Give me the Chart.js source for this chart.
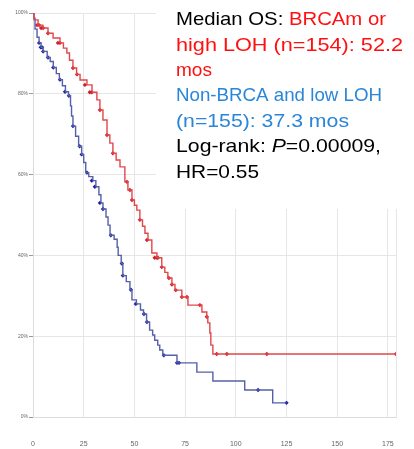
<!DOCTYPE html>
<html>
<head>
<meta charset="utf-8">
<script src="https://cdn.jsdelivr.net/npm/chart.js@4.4.1/dist/chart.umd.min.js"></script>
<style>
  html, body { margin: 0; padding: 0; background: #fff; }
  #wrap { width: 414px; height: 449px; }
</style>
</head>
<body>
<div id="wrap"><canvas id="km"></canvas></div>
<script>
// months / survival (%)
const RED_T = [0, 0.5, 2.5, 4.9, 7.4, 9.9, 13.3, 15, 16.7, 18, 19.7, 21.5, 23.2, 26.6, 29.1, 31.5, 33, 34.5, 36.5, 37.9,
    39.4, 41, 42.9, 45.3, 46.8, 48.8, 50, 51.2, 52.7, 54, 55.2, 56.7, 58.6, 61.1, 63.5, 65, 66.5, 68.5, 70, 73.4,
    76.4, 83.3, 85.7, 86.2, 87.2, 87.7, 88.7, 179];
const RED_S = [100, 98.3, 97, 96.3, 95, 93.8, 92.6, 91.3, 90.1, 88.3, 86.4, 84.8, 83.4, 82.2, 80.4, 78.5, 76, 73.5, 69.8, 67.8,
    65.3, 63.6, 61.9, 58.2, 56.2, 53.7, 52.4, 51.2, 48.8, 47.2, 45.5, 43.8, 40.6, 39.4, 37.1, 35.8, 34.4, 32.8, 31.4, 29.7,
    27.7, 26, 24.8, 23.3, 20.8, 17.8, 15.6, 15.6];
const RED_CENS_T = [2, 3, 4, 5, 7.4, 12.3, 13.3, 19.7, 21.7, 25.6, 28, 29, 33, 36.5, 39.4, 46.3, 47.8, 48.8, 52.7, 56.2,
    60, 61.1, 61.6, 63.5, 67, 68.5, 70.4, 73.4, 75.9, 82.3, 85.7, 90.6, 95.6, 115.3, 179];
const RED_CENS_S = [97, 97, 96.3, 96.3, 95, 92.6, 92.6, 86.4, 84.8, 82.2, 80.4, 80.4, 76, 69.8, 65.3, 58.2, 56.2, 53.7, 48.8, 43.8,
    39.4, 39.4, 39.4, 37.1, 34.4, 32.8, 31.4, 29.7, 29.7, 27.7, 24.8, 15.6, 15.6, 15.6, 15.6];

const BLUE_T = [0, 0.5, 1, 2, 3, 4, 5, 7, 8.5, 10, 11.5, 13, 14.5, 16, 17.5, 18.5, 19, 19.7, 21, 22.5,
    24, 25, 26, 27.5, 29.5, 31, 32.5, 33.5, 34.5, 36, 37, 38, 40, 41.5, 42, 43.5, 44.3, 46, 47.8, 48.8,
    51, 53, 54.5, 56, 57.5, 59, 60, 61.5, 62.5, 64, 71, 80.8, 88.7, 104.4, 118.2, 125];
const BLUE_S = [100, 98.7, 96, 94, 92.6, 91.5, 90.5, 89, 88, 86.5, 85, 83.5, 82, 80.5, 79.5, 77, 74.5, 72, 69.5, 67,
    65, 63, 60.5, 59.5, 58.5, 57, 55, 53, 51.5, 49.5, 47.5, 45, 44, 42, 40, 38, 35, 33.5, 31.5, 29,
    28, 26.5, 25.5, 23.5, 21.5, 20.3, 19, 17.8, 16.6, 15.3, 13.4, 11.1, 8.9, 6.7, 3.5, 3.5];
const BLUE_CENS_T = [3, 3.8, 4.5, 5, 7.4, 10, 13.3, 15.8, 17.7, 19.7, 23, 24, 26.6, 29, 30.5, 33, 34.5, 38.4, 43.8,
    44.3, 48.3, 50.7, 54.7, 56.2, 64.5, 71, 72, 111, 125];
const BLUE_CENS_S = [92.6, 91.5, 91.5, 90.5, 89, 86.5, 83.5, 80.5, 79.5, 72, 67, 65, 60.5, 58.5, 57, 53, 51.5, 45, 38,
    35, 31.5, 28, 25.5, 23.5, 15.3, 13.4, 13.4, 6.7, 3.5];

const X_TICKS = [0, 25, 50, 75, 100, 125, 150, 175, 179];
const Y_TICKS = [0, 20, 40, 60, 80, 100];

const RED_LINE = "#e2474a";
const RED_MARK = "#d01f2a";
const BLUE_LINE = "#5560a8";
const BLUE_MARK = "#1c1ca6";

function toPoints(xs, ys) {
    return xs.map((x, i) => ({x: x, y: ys[i]}));
}

// white box behind the legend text, then the text itself
const textBox = {
    id: "textBox",
    beforeDatasetsDraw(chart) {
        const ctx = chart.ctx;
        ctx.save();
        ctx.fillStyle = "#fff";
        ctx.fillRect(156, 0, 258, 209);
        ctx.restore();
    },
    afterDraw(chart) {
        const ctx = chart.ctx;
        // each line: its pieces and the x where the line ends in the picture
        const lines = [
            [[["Median OS: ", "#000"], ["BRCAm or", "#ff1010"]], 386],
            [[["high LOH (n=154): 52.2", "#ff1010"]], 403],
            [[["mos", "#ff1010"]], 212],
            [[["Non-BRCA and low LOH", "#2a86d8"]], 382],
            [[["(n=155): 37.3 mos", "#2a86d8"]], 349],
            [[["Log-rank: ", "#000"], ["P", "#000", true], ["=0.00009,", "#000"]], 381],
            [[["HR=0.55", "#000"]], 259],
        ];
        const x0 = 176;
        ctx.save();
        ctx.textBaseline = "middle";
        lines.forEach(function (line, i) {
            let parts = line[0];
            let y = 20 + i * 25.4;
            let w = 0;
            parts.forEach(function (p) {
                ctx.font = (p[2] ? "italic " : "") + "19px 'Liberation Sans', Arial, sans-serif";
                w += ctx.measureText(p[0]).width;
            });
            let sx = (line[1] - x0) / w;
            ctx.save();
            ctx.translate(x0, y);
            ctx.scale(sx, 1);
            let x = 0;
            parts.forEach(function (p) {
                ctx.font = (p[2] ? "italic " : "") + "19px 'Liberation Sans', Arial, sans-serif";
                ctx.fillStyle = p[1];
                ctx.fillText(p[0], x, 0);
                x += ctx.measureText(p[0]).width;
            });
            ctx.restore();
        });
        ctx.restore();
    }
};

new Chart(document.getElementById("km"), {
    type: "scatter",
    data: {
        datasets: [
            {
                data: toPoints(RED_T, RED_S),
                showLine: true,
                stepped: true,
                borderColor: RED_LINE,
                borderWidth: 1.4,
                pointRadius: 0,
            },
            {
                data: toPoints(BLUE_T, BLUE_S),
                showLine: true,
                stepped: true,
                borderColor: BLUE_LINE,
                borderWidth: 1.4,
                pointRadius: 0,
            },
            {
                data: toPoints(RED_CENS_T, RED_CENS_S),
                pointStyle: "rectRot",
                pointRadius: 2.2,
                backgroundColor: RED_MARK,
                borderColor: RED_MARK,
                borderWidth: 0,
            },
            {
                data: toPoints(BLUE_CENS_T, BLUE_CENS_S),
                pointStyle: "rectRot",
                pointRadius: 2.2,
                backgroundColor: BLUE_MARK,
                borderColor: BLUE_MARK,
                borderWidth: 0,
            },
        ]
    },
    options: {
        animation: false,
        responsive: true,
        maintainAspectRatio: false,
        layout: {
            padding: {top: 13, right: 18, left: 0, bottom: 0}
        },
        scales: {
            x: {
                type: "linear",
                min: 0,
                max: 179,
                afterBuildTicks: function (scale) {
                    scale.ticks = X_TICKS.map(v => ({value: v}));
                },
                afterFit: function (scale) {
                    scale.height = 32;
                    scale.paddingLeft = 0;
                    scale.paddingRight = 0;
                },
                grid: {
                    color: "#e6e6e6",
                    drawTicks: false,
                },
                border: {color: "#dcdcdc"},
                ticks: {
                    autoSkip: false,
                    maxRotation: 0,
                    padding: 23,
                    color: "#666",
                    font: {size: 7},
                    callback: function (value) {
                        return value === 179 ? "" : value;
                    }
                }
            },
            y: {
                min: 0,
                max: 100,
                afterBuildTicks: function (scale) {
                    scale.ticks = Y_TICKS.map(v => ({value: v}));
                },
                afterFit: function (scale) {
                    scale.width = 33;
                    scale.paddingTop = 0;
                    scale.paddingBottom = 0;
                },
                grid: {
                    color: "#e6e6e6",
                    tickLength: 4,
                    tickColor: "#999",
                },
                border: {color: "#dcdcdc"},
                ticks: {
                    padding: 1,
                    color: "#666",
                    font: {size: 5},
                    callback: function (value) {
                        return value + "%";
                    }
                }
            }
        },
        plugins: {
            legend: {display: false},
            tooltip: {enabled: false},
        }
    },
    plugins: [textBox]
});
</script>
</body>
</html>
